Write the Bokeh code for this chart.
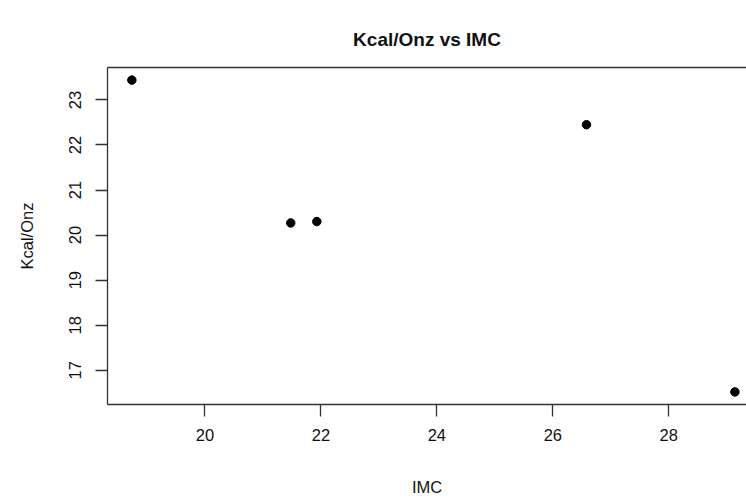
import math
from bokeh.plotting import figure
from bokeh.models import Range1d, FixedTicker, LinearAxis, ColumnDataSource
from bokeh.embed import file_html
from bokeh.resources import INLINE

# Data
imc = [18.74, 21.48, 21.93, 26.58, 29.14]
kcal_onz = [23.44, 20.27, 20.30, 22.45, 16.52]
x_ticks = [20, 22, 24, 26, 28]
y_ticks = [17, 18, 19, 20, 21, 22, 23]

FONT = "Liberation Sans"
TXT = "#111111"

src = ColumnDataSource(data=dict(x=imc, y=kcal_onz))

p = figure(width=746, height=501, output_backend="svg", toolbar_location=None,
           x_range=Range1d(18.32, 29.34), y_range=Range1d(16.24, 23.72),
           min_border_left=107, min_border_right=0, min_border_top=67, min_border_bottom=97,
           title="Kcal/Onz vs IMC")
p.outline_line_color = None
p.background_fill_color = "white"
p.border_fill_color = "white"
p.xgrid.visible = False
p.ygrid.visible = False

p.title.align = "center"
p.title.offset = 7
p.title.text_font = FONT
p.title.text_font_size = "19px"
p.title.text_font_style = "bold"
p.title.text_color = TXT
p.title.standoff = 36

p.scatter("x", "y", source=src, size=8.5, fill_color="black", line_color="black", marker="circle")

xa = p.xaxis[0]
xa.ticker = FixedTicker(ticks=x_ticks)
xa.axis_label = "IMC"
ya = p.yaxis[0]
ya.ticker = FixedTicker(ticks=y_ticks)
ya.axis_label = "Kcal/Onz"
ya.major_label_orientation = "parallel"

for ax in (xa, ya):
    ax.axis_line_color = "#333333"
    ax.axis_line_width = 1.3
    ax.major_tick_line_color = "#333333"
    ax.major_tick_line_width = 1.3
    ax.major_tick_out = 12
    ax.major_tick_in = 0
    ax.minor_tick_line_color = None
    ax.major_label_text_font = FONT
    ax.major_label_text_font_size = "16.5px"
    ax.major_label_text_color = TXT
    ax.axis_label_text_font = FONT
    ax.axis_label_text_font_size = "16.5px"
    ax.axis_label_text_font_style = "normal"
    ax.axis_label_text_color = TXT

xa.major_label_standoff = 12
xa.axis_label_standoff = 34
ya.major_label_standoff = 14
ya.axis_label_standoff = 31

top = LinearAxis(ticker=FixedTicker(ticks=[]), axis_line_color="#333333", axis_line_width=1.3,
                 major_tick_out=0, major_tick_in=0, minor_tick_line_color=None,
                 major_label_text_font_size="0px")
p.add_layout(top, "above")

open("out.html", "w").write(file_html(p, INLINE))
